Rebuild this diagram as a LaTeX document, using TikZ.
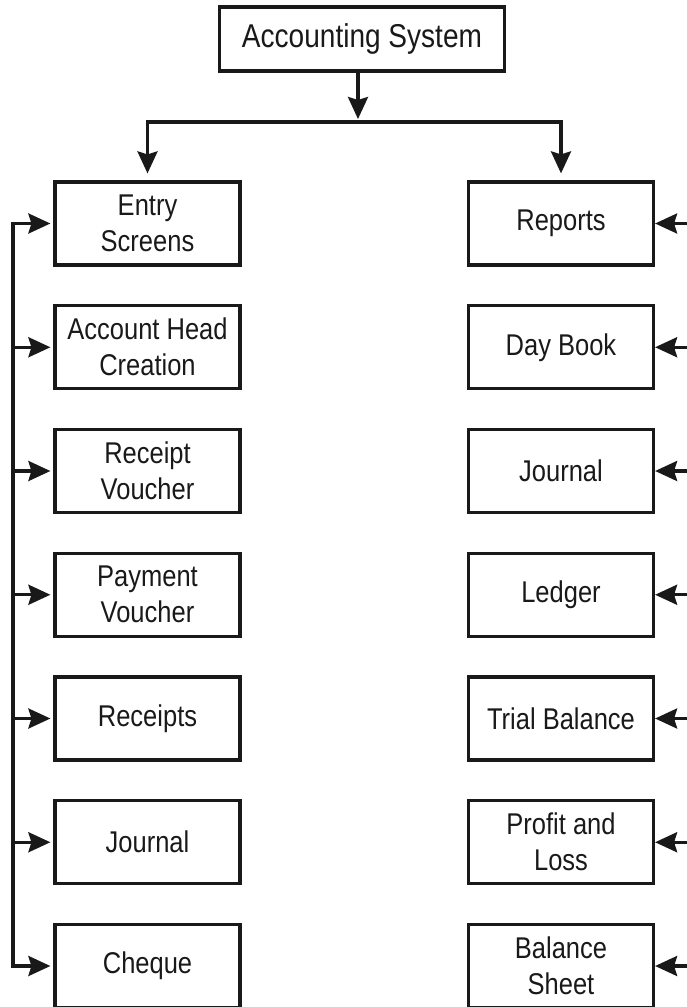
\documentclass[tikz,border=0pt]{standalone}
\usepackage{fontspec}
\setmainfont{Liberation Sans}[FakeStretch=0.85]
\usetikzlibrary{arrows.meta}
\begin{document}
\begin{tikzpicture}[x=1pt,y=-1pt,
  box/.style={draw=black!90, line width=3.2pt, minimum width=185pt, minimum height=83pt,
    inner sep=0pt, align=center, font=\fontsize{30}{36}\selectfont, text=black!90},
  topbox/.style={draw=black!90, line width=3.2pt, minimum width=285pt, minimum height=64pt,
    inner sep=0pt, font=\fontsize{33}{36}\selectfont, text=black!90},
  conn/.style={draw=black!90, line width=3.2pt},
  arr/.style={conn, -{Stealth[length=22pt,width=20pt,inset=3pt]}}]
\useasboundingbox (0,0) rectangle (686,1007);
\node[topbox] (top) at (362,39) {Accounting System};
\foreach \i/\t in {1/{Entry\\Screens},2/{Account Head\\Creation},3/{Receipt\\Voucher},4/{Payment\\Voucher},5/Receipts,6/Journal,7/Cheque}
  \node[box] (l\i) at (147.5,{223.5+123.75*(\i-1)}) {\t};
\foreach \i/\t in {1/Reports,2/Day Book,3/Journal,4/Ledger,5/Trial Balance,6/{Profit and\\Loss},7/{Balance\\Sheet}}
  \node[box] (r\i) at (561,{223.5+123.75*(\i-1)}) {\t};
\coordinate (j) at (358,122);
\coordinate (lt) at (13,223.5);
\coordinate (lb) at (13,966);
\coordinate (re) at (690,0);
\draw[arr, shorten >=3pt] (top.south -| j) -- (j);
\draw[arr, shorten >=7pt] (j) -| (l1.north);
\draw[arr, shorten >=7pt] (j) -| (r1.north);
\draw[conn, line cap=rect] (lt) -- (lb);
\foreach \i in {1,...,7}{
  \draw[arr, shorten >=3pt] (lt |- l\i.west) -- (l\i.west);
  \draw[arr] (re |- r\i.east) -- (r\i.east);
}
\end{tikzpicture}
\end{document}
